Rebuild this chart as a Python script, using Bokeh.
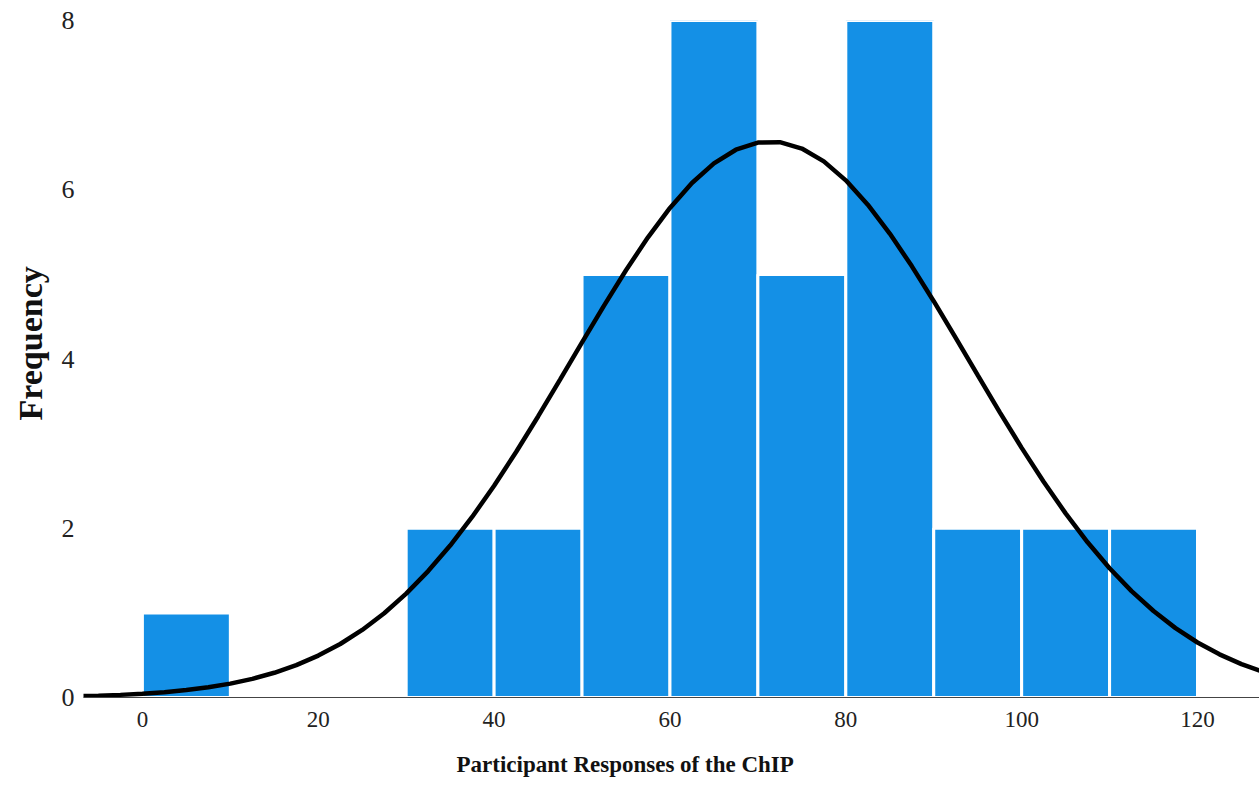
from bokeh.plotting import figure
from bokeh.models import ColumnDataSource, FixedTicker, Range1d, Title
from bokeh.embed import file_html
from bokeh.resources import INLINE

# Histogram bins (left/right edges) and counts
bin_left = [0, 10, 20, 30, 40, 50, 60, 70, 80, 90, 100, 110]
bin_right = [10, 20, 30, 40, 50, 60, 70, 80, 90, 100, 110, 120]
counts = [1, 0, 0, 2, 2, 5, 8, 5, 8, 2, 2, 2]

# Fitted normal curve
curve_x = [-7.5, -5, -2.5, 0, 2.5, 5, 7.5, 10, 12.5, 15, 17.5, 20, 22.5, 25, 27.5,
           30, 32.5, 35, 37.5, 40, 42.5, 45, 47.5, 50, 52.5, 55, 57.5, 60, 62.5,
           65, 67.5, 70, 72.5, 75, 77.5, 80, 82.5, 85, 87.5, 90, 92.5, 95, 97.5,
           100, 102.5, 105, 107.5, 110, 112.5, 115, 117.5, 120, 122.5, 125, 127.5]
curve_y = [0.015, 0.022, 0.031, 0.045, 0.063, 0.088, 0.121, 0.164, 0.220, 0.292,
           0.382, 0.495, 0.632, 0.798, 0.996, 1.227, 1.494, 1.796, 2.133, 2.503,
           2.901, 3.321, 3.756, 4.196, 4.631, 5.049, 5.438, 5.785, 6.080, 6.312,
           6.473, 6.557, 6.562, 6.487, 6.335, 6.111, 5.824, 5.482, 5.098, 4.683,
           4.249, 3.809, 3.372, 2.950, 2.549, 2.176, 1.834, 1.528, 1.257, 1.022,
           0.820, 0.650, 0.510, 0.394, 0.302]

x_ticks = [0, 20, 40, 60, 80, 100, 120]
y_ticks = [0, 2, 4, 6, 8]
x_title = "Participant Responses of the ChIP"
y_title = "Frequency"

nz = [i for i, c in enumerate(counts) if c > 0]
src = ColumnDataSource(dict(
    left=[bin_left[i] for i in nz],
    right=[bin_right[i] for i in nz],
    top=[counts[i] for i in nz],
    bottom=[0 for _ in nz],
))

p = figure(width=1259, height=803, output_backend="svg", toolbar_location=None,
           x_range=Range1d(-6.7, 127.05), y_range=Range1d(0, 8.0),
           min_border_left=82, min_border_right=0, min_border_top=20,
           min_border_bottom=106)
p.outline_line_color = None
p.xgrid.visible = False
p.ygrid.visible = False
p.background_fill_color = "white"
p.border_fill_color = "white"

p.quad(left="left", right="right", top="top", bottom="bottom", source=src,
       fill_color="#1490E6", line_color="white", line_width=3)
p.line(curve_x, curve_y, line_color="black", line_width=4.5)

font = "Liberation Serif"

xa = p.xaxis[0]
xa.ticker = FixedTicker(ticks=x_ticks)
xa.axis_line_color = "#444444"
xa.axis_line_width = 1
xa.major_tick_line_color = None
xa.minor_tick_line_color = None
xa.major_tick_out = 0
xa.major_tick_in = 0
xa.major_label_text_font = font
xa.major_label_text_font_size = "23px"
xa.major_label_text_color = "#222222"
xa.major_label_standoff = 14

ya = p.yaxis[0]
ya.ticker = FixedTicker(ticks=y_ticks)
ya.axis_line_color = None
ya.major_tick_line_color = None
ya.minor_tick_line_color = None
ya.major_tick_out = 0
ya.major_tick_in = 0
ya.major_label_text_font = font
ya.major_label_text_font_size = "26px"
ya.major_label_text_color = "#222222"
ya.major_label_standoff = 9

xt = Title(text=x_title, align="left", offset=373, standoff=40,
           text_font=font, text_font_style="bold", text_font_size="23px",
           text_color="#111111")
p.add_layout(xt, "below")

yt = Title(text=y_title, align="left", offset=277, standoff=19,
           text_font=font, text_font_style="bold", text_font_size="34px",
           text_color="#111111")
p.add_layout(yt, "left")

open("out.html", "w").write(file_html(p, INLINE))
